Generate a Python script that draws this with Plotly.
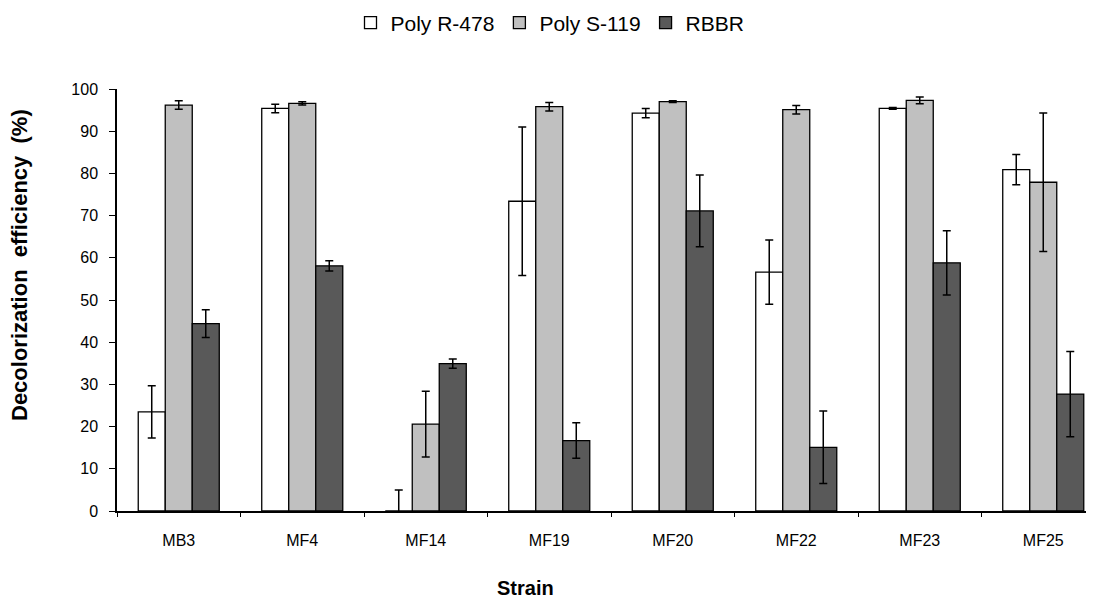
import plotly.graph_objects as go

strains = ["MB3", "MF4", "MF14", "MF19", "MF20", "MF22", "MF23", "MF25"]

poly_r478 = [23.5, 95.4, 0.0, 73.4, 94.3, 56.6, 95.4, 80.9]
poly_r478_err = [6.2, 1.0, 5.0, 17.6, 1.1, 7.6, 0.2, 3.6]

poly_s119 = [96.2, 96.6, 20.6, 95.8, 97.0, 95.1, 97.3, 77.9]
poly_s119_err = [1.0, 0.4, 7.8, 1.0, 0.2, 1.0, 0.8, 16.4]

rbbr = [44.4, 58.1, 34.9, 16.7, 71.1, 15.1, 58.8, 27.7]
rbbr_err = [3.3, 1.2, 1.1, 4.2, 8.5, 8.6, 7.6, 10.1]

y_ticks = [0, 10, 20, 30, 40, 50, 60, 70, 80, 90, 100]

series = [
    ("Poly R-478", poly_r478, poly_r478_err, "#FFFFFF"),
    ("Poly S-119", poly_s119, poly_s119_err, "#C0C0C0"),
    ("RBBR", rbbr, rbbr_err, "#595959"),
]

FONT = "Liberation Sans, Arial, sans-serif"
OFF = 8  # page body margin offset
W, H = 1094, 601
ML, MR, MT, MB = 117 - OFF, 0, 89 - OFF, H - (511 - OFF)
PW, PH = W - ML - MR, H - MT - MB
CAT_PX = 123.5

fig = go.Figure()
for name, vals, errs, color in series:
    fig.add_trace(go.Bar(
        name=name,
        x=strains,
        y=vals,
        marker=dict(color=color, line=dict(color="#000000", width=1.3)),
        error_y=dict(type="data", array=errs, visible=True,
                     color="#000000", thickness=1.5, width=4),
    ))

fig.update_layout(
    width=W, height=H,
    barmode="group",
    bargap=0.344,
    bargroupgap=0,
    plot_bgcolor="#FFFFFF",
    paper_bgcolor="#FFFFFF",
    font=dict(family=FONT, size=16, color="#000000"),
    margin=dict(l=ML, r=MR, t=MT, b=MB, autoexpand=False),
    legend=dict(orientation="h", x=(550 - OFF) / W, xref="container", xanchor="center",
                y=1 - (23 - OFF) / H, yref="container", yanchor="middle",
                font=dict(family=FONT, size=21, color="#000000"),
                itemwidth=30, traceorder="normal"),
    xaxis=dict(
        range=[-0.5, -0.5 + PW / CAT_PX],
        automargin=False,
        showline=True, linecolor="#000000", linewidth=1.5,
        ticks="outside", tickson="boundaries", ticklen=4,
        tickcolor="#000000", tickwidth=1,
        showgrid=False, zeroline=False,
        ticklabelstandoff=14,
        tickfont=dict(family=FONT, size=16, color="#000000"),
    ),
    yaxis=dict(
        range=[0, 100],
        automargin=False,
        tickvals=y_ticks,
        showline=True, linecolor="#000000", linewidth=1.5,
        ticks="outside", ticklen=6, tickcolor="#000000", tickwidth=1,
        showgrid=False, zeroline=False,
        ticklabelstandoff=8,
        tickfont=dict(family=FONT, size=16, color="#000000"),
    ),
    annotations=[
        dict(text="<b>Strain</b>", xref="paper", yref="paper",
             x=(525 - 117) / PW, y=-(588 - 511) / PH,
             xanchor="center", yanchor="middle", showarrow=False,
             font=dict(family=FONT, size=20, color="#000000")),
        dict(text="<b>Decolorization  efficiency  (%)</b>", xref="paper", yref="paper",
             x=(19 - 117) / PW, y=(511 - 265) / PH, textangle=-90,
             xanchor="center", yanchor="middle", showarrow=False,
             font=dict(family=FONT, size=22, color="#000000")),
    ],
)

fig.write_html("out.html")
